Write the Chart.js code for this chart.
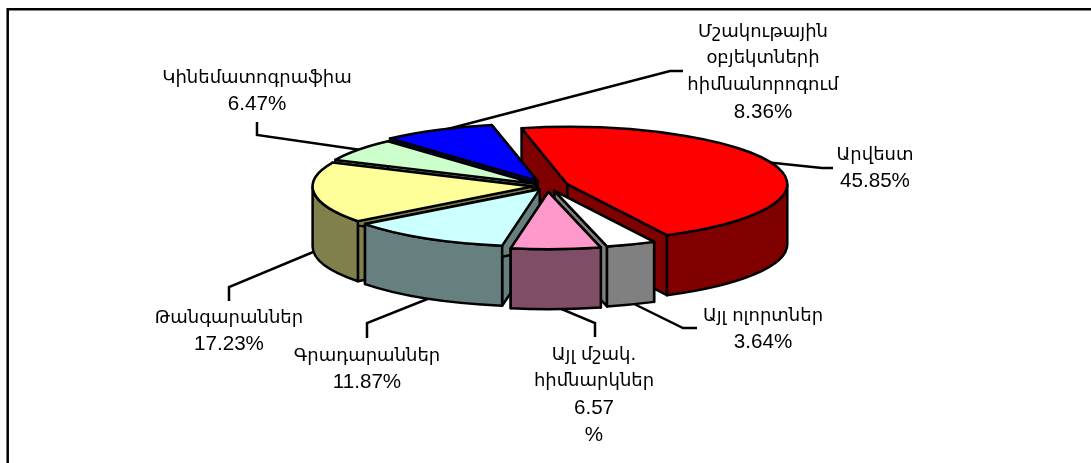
<!DOCTYPE html>
<html>
<head>
<meta charset="utf-8">
<title>Pie</title>
<script src="https://cdn.jsdelivr.net/npm/chart.js@4"></script>
<style>
html, body { margin: 0; padding: 0; background: #fff; overflow: hidden; }
canvas { display: block; }
</style>
</head>
<body>
<canvas id="myChart" width="1091" height="463"></canvas>
<script>
const categories = [
    ['Արվեստ'],
    ['Այլ ոլորտներ'],
    ['Այլ մշակ.', 'հիմնարկներ'],
    ['Գրադարաններ'],
    ['Թանգարաններ'],
    ['Կինեմատոգրաֆիա'],
    ['Մշակութային', 'օբյեկտների', 'հիմնանորոգում']
];
const values = [45.85, 3.64, 6.57, 11.87, 17.23, 6.47, 8.36];

const topColors = ['#ff0000', '#ffffff', '#ff99cc', '#ccffff', '#ffff99', '#ccffcc', '#0000ff'];
const sideColors = ['#800000', '#808080', '#804d66', '#668080', '#80804d', '#668066', '#000080'];

// how far each slice is pulled out of the pie
const explode = [21, 20, 23, 15, 15, 15, 22];
// back to front
const drawOrder = [0, 6, 5, 4, 1, 3, 2];

const squash = 0.26;
const depth = 60;

// label centres, first line y, and the leader line of each slice
const labelPos = [
    { x: 875, y: 155, line: [[755, 161], [822, 168], [833, 168]] },
    { x: 763, y: 316, line: [[620, 297], [683, 328], [697, 328]] },
    { x: 594, y: 355, line: [[540, 300], [595, 323], [595, 337]], splitPercent: true },
    { x: 367, y: 356, line: [[440, 294], [367, 323], [367, 338]] },
    { x: 229, y: 318, line: [[330, 245], [229, 287], [229, 301]] },
    { x: 257, y: 78, line: [[375, 152], [257, 135], [257, 122]] },
    { x: 763, y: 32, line: [[440, 131], [670, 71], [683, 71]] }
];
const lineHeight = 26.8;

function wallPath(ctx, x, y, r, a0, a1) {
    ctx.beginPath();
    ctx.ellipse(x, y, r, r * squash, 0, a0, a1);
    ctx.ellipse(x, y + depth, r, r * squash, 0, a1, a0, true);
    ctx.closePath();
}

function drawSlice(ctx, el, i) {
    const mid = (el.startAngle + el.endAngle) / 2;
    const x = el.x + Math.cos(mid) * explode[i];
    const y = el.y + Math.sin(mid) * explode[i] * squash;
    const r = el.outerRadius;
    const a0 = el.startAngle;
    const a1 = el.endAngle;

    ctx.save();
    ctx.lineWidth = 2.5;
    ctx.lineJoin = 'round';
    ctx.strokeStyle = '#000';
    ctx.fillStyle = sideColors[i];

    // the two cut faces
    [a0, a1].forEach(function(a) {
        const ex = x + Math.cos(a) * r;
        const ey = y + Math.sin(a) * r * squash;
        ctx.beginPath();
        ctx.moveTo(x, y);
        ctx.lineTo(ex, ey);
        ctx.lineTo(ex, ey + depth);
        ctx.lineTo(x, y + depth);
        ctx.closePath();
        ctx.fill();
        ctx.stroke();
    });

    // outer wall, only the part that faces the viewer
    for (let n = -1; n <= 1; n++) {
        const lo = Math.max(a0, n * 2 * Math.PI);
        const hi = Math.min(a1, n * 2 * Math.PI + Math.PI);
        if (hi > lo) {
            wallPath(ctx, x, y, r, lo, hi);
            ctx.fill();
            ctx.stroke();
        }
    }

    // top surface is the library's own arc, squashed
    ctx.save();
    ctx.translate(x, y);
    ctx.scale(1, squash);
    ctx.translate(-el.x, -el.y);
    el.draw(ctx);
    ctx.restore();

    ctx.beginPath();
    ctx.moveTo(x, y);
    ctx.ellipse(x, y, r, r * squash, 0, a0, a1);
    ctx.closePath();
    ctx.stroke();
    ctx.restore();
}

const pie3d = {
    id: 'pie3d',
    beforeDatasetsDraw(chart) {
        const ctx = chart.ctx;
        const arcs = chart.getDatasetMeta(0).data;

        ctx.save();
        ctx.strokeStyle = '#000';
        ctx.lineWidth = 2.5;
        ctx.beginPath();
        ctx.moveTo(7.7, 463);
        ctx.lineTo(7.7, 9.2);
        ctx.lineTo(1091, 9.2);
        ctx.stroke();

        labelPos.forEach(function(p) {
            ctx.beginPath();
            p.line.forEach(function(pt, j) {
                if (j == 0) ctx.moveTo(pt[0], pt[1]);
                else ctx.lineTo(pt[0], pt[1]);
            });
            ctx.stroke();
        });
        ctx.restore();

        drawOrder.forEach(function(i) {
            drawSlice(ctx, arcs[i], i);
        });
        return false;
    },
    afterDraw(chart) {
        const ctx = chart.ctx;
        ctx.save();
        ctx.fillStyle = '#000';
        ctx.textAlign = 'center';
        ctx.textBaseline = 'middle';
        labelPos.forEach(function(p, i) {
            const pct = values[i].toFixed(2);
            const numbers = p.splitPercent ? [pct, '%'] : [pct + '%'];
            ctx.font = '18px "DejaVu Sans", sans-serif';
            categories[i].forEach(function(txt, j) {
                ctx.fillText(txt, p.x, p.y + j * lineHeight);
            });
            ctx.font = '20.6px "Liberation Sans", sans-serif';
            numbers.forEach(function(txt, j) {
                ctx.fillText(txt, p.x, p.y + (categories[i].length + j) * lineHeight);
            });
        });
        ctx.restore();
    }
};

new Chart(document.getElementById('myChart'), {
    type: 'pie',
    data: {
        labels: categories.map(c => c.join(' ')),
        datasets: [{
            data: values,
            backgroundColor: topColors,
            borderWidth: 0
        }]
    },
    options: {
        responsive: false,
        animation: false,
        rotation: -12,
        radius: 220,
        layout: { padding: { left: 4, bottom: 91 } },
        plugins: {
            legend: { display: false },
            tooltip: { enabled: false }
        }
    },
    plugins: [pie3d]
});
</script>
</body>
</html>
